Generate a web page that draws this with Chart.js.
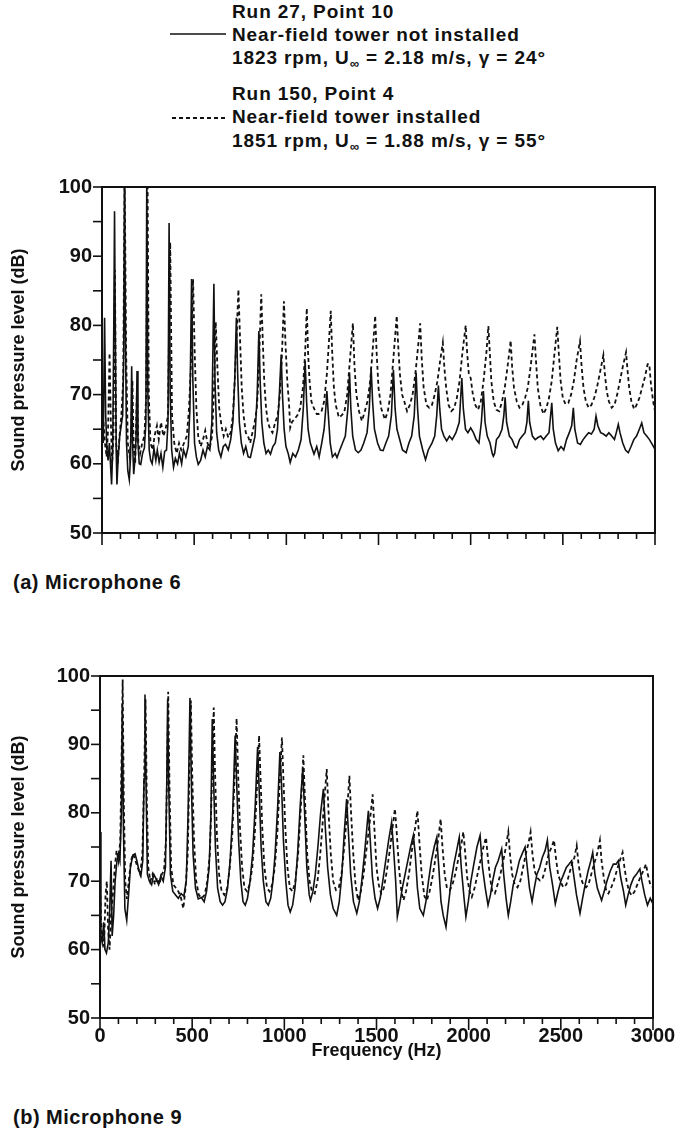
<!DOCTYPE html>
<html>
<head>
<meta charset="utf-8">
<script src="https://cdn.jsdelivr.net/npm/chart.js@4.4.0/dist/chart.umd.min.js"></script>
<style>
  body { margin: 0; background: #fff; width: 682px; height: 1134px; position: relative; overflow: hidden;
         font-family: "Liberation Sans", Arial, Helvetica, sans-serif; font-weight: bold; color: #111; }
  .t { position: absolute; font-size: 19px; line-height: 1; letter-spacing: 0.9px; white-space: nowrap; }
  .panel { position: absolute; left: 13px; font-size: 20px; line-height: 1; letter-spacing: 0.5px; white-space: nowrap; }
  sub { font-size: 13px; vertical-align: -4px; line-height: 0; }
  svg.key { position: absolute; left: 170px; }
  canvas { position: absolute; left: 0; }
</style>
</head>
<body>

<div class="t" style="left:232px; top:2px">Run 27, Point 10</div>
<div class="t" style="left:232px; top:25px">Near-field tower not installed</div>
<div class="t" style="left:232px; top:48px">1823 rpm, U<sub>∞</sub> = 2.18 m/s, γ = 24°</div>
<div class="t" style="left:232px; top:84px">Run 150, Point 4</div>
<div class="t" style="left:232px; top:107px">Near-field tower installed</div>
<div class="t" style="left:232px; top:131px">1851 rpm, U<sub>∞</sub> = 1.88 m/s, γ = 55°</div>
<svg class="key" style="top:30px" width="60" height="8"><line x1="0" y1="4" x2="56" y2="4" stroke="#111" stroke-width="1.6"/></svg>
<svg class="key" style="top:114px" width="60" height="8"><line x1="2" y1="4" x2="57" y2="4" stroke="#111" stroke-width="1.8" stroke-dasharray="4 3"/></svg>

<canvas id="mic6" width="682" height="376" style="top:172px"></canvas>
<div class="panel" style="top:572px">(a) Microphone 6</div>

<canvas id="mic9" width="682" height="404" style="top:661px"></canvas>
<div class="panel" style="top:1107px">(b) Microphone 9</div>

<script>
// frequency (Hz), sound pressure level (dB)
const freqTickLabels = [0, 500, 1000, 1500, 2000, 2500, 3000];
const splTickLabels = [50, 60, 70, 80, 90, 100];

// Microphone 6, run 27 (tower not installed)
const mic6TowerOff = [
  [0,66],[7,63],[14,81.1],[20,67],[27,62],[33,60.5],[40,63],[46,60],[52,57],[58,62],[64,80],[68,96.5],[72,80],[77,62],[81,57],
  [88,61],[96,64],[104,65.5],[112,67],[118,76],[122,102],[127,80],[133,63],[140,59],[148,57.7],[155,61],[161,74.1],[166,63],
  [172,58.5],[180,61],[185,64],[190,73.4],[195,63],[202,60],[210,59.9],[220,61.5],[230,62.3],[238,66],[243,102],[249,70],
  [256,62],[264,60.5],[272,60],[282,62.2],[292,60.5],[300,62],[310,60.2],[320,61.5],[330,59.5],[340,61.8],[350,62],[358,66],
  [364,94.8],[370,70],[378,62],[388,59.5],[398,60.8],[410,60],[420,61.5],[432,60],[442,62],[455,61],[468,62.5],[477,68],
  [486,86.7],[493,72],[502,63],[512,61],[522,59.9],[535,60.5],[548,62],[560,61],[572,62.5],[585,62],[596,66],[607,86],
  [613,72],[622,64.5],[633,62],[645,61],[658,62.5],[670,62.8],[685,62],[698,63.5],[710,66],[720,72],[729,81.1],[736,73],
  [745,66],[756,63],[768,61.5],[780,62.5],[793,61],[805,60.9],[818,62.5],[830,64],[842,70],[851,79.2],[858,72],[867,66],
  [878,63],[890,61.5],[902,62],[914,61.4],[927,62.5],[940,63],[952,65],[962,70],[972,75.8],[979,70],[988,65],[998,62.5],
  [1010,61.5],[1021,60.2],[1035,61.5],[1050,61],[1065,62],[1080,63.5],[1092,68],[1102,74.9],[1110,69],[1118,65],[1130,63],
  [1150,61.4],[1165,62.5],[1178,61],[1192,63],[1205,65],[1214,68],[1220,70.5],[1228,67],[1238,63],[1250,61],[1265,61.5],
  [1275,60.9],[1290,62],[1305,63],[1320,64],[1334,68],[1343,73.2],[1350,68],[1360,64],[1375,62],[1390,61.6],[1405,62],
  [1420,63],[1438,64.5],[1450,68],[1460,73.9],[1468,69],[1478,65],[1495,63],[1510,62],[1525,61.9],[1540,63],[1555,64],
  [1570,67],[1581,73.6],[1590,68],[1600,65],[1615,63.5],[1630,62],[1650,61.6],[1665,63],[1680,64],[1694,67],[1704,73.2],
  [1712,68],[1722,64],[1740,62],[1755,60.6],[1770,62],[1790,63],[1805,64],[1816,67],[1825,71.3],[1832,68],[1842,65],
  [1855,64],[1870,63.3],[1885,64],[1900,63.5],[1920,64.5],[1938,66],[1952,72.4],[1960,68],[1972,65],[1985,64.5],[2000,65.2],
  [2015,64.5],[2030,63.5],[2045,63],[2058,66],[2069,70.5],[2078,66],[2090,64],[2105,63],[2117,61.5],[2123,61.1],[2130,61.5],
  [2140,63.5],[2155,64],[2170,65],[2180,67],[2187,69.6],[2195,66],[2210,64],[2225,63.5],[2240,62.5],[2250,62.3],[2265,63.5],
  [2280,64],[2295,64.5],[2305,66],[2313,69.1],[2320,66],[2335,64],[2350,63.5],[2365,63.8],[2380,64],[2395,63.5],[2410,64],
  [2425,64.5],[2440,68.8],[2448,65],[2460,63],[2475,61.9],[2490,62.5],[2505,62],[2520,63.5],[2535,64.5],[2548,65.5],
  [2557,68.1],[2565,65],[2580,63],[2595,62.8],[2610,63.5],[2625,64],[2640,64.5],[2655,64.3],[2670,65],[2680,66.9],[2690,65.5],
  [2705,64.5],[2720,64.3],[2735,64],[2750,64.5],[2765,64],[2780,63.5],[2790,64.5],[2801,65.7],[2810,64.5],[2825,63],
  [2840,62],[2855,61.6],[2870,62.5],[2885,63.5],[2900,64],[2915,65],[2928,65.9],[2940,64.5],[2955,64],[2970,63.5],
  [2985,62.8],[3000,62.1]
];

// Microphone 6, run 150 (tower installed)
const mic6TowerOn = [
  [0,68],[8,66],[16,63],[25,61],[33,65],[41,76],[48,66],[55,60],[62,64],[70,88],[77,63],[85,60],[95,64],[105,67],[115,72],
  [123,102],[131,76],[140,63],[150,61],[158,64],[165,72],[171,63],[180,60],[190,71],[197,63],[207,61.5],[218,63],[230,64],
  [240,70],[247,102],[254,70],[263,63],[275,62],[285,64],[298,65.5],[308,63.5],[320,66],[333,64],[345,65],[358,67],[370,92],
  [380,67],[392,63],[405,61.5],[418,63],[430,62],[445,63],[460,64],[472,68],[482,74],[494,86.7],[503,76],[512,68],[522,64],
  [535,62.5],[548,63.5],[560,64.8],[572,63],[585,62.3],[597,64],[607,70],[617,80.5],[626,74],[636,68],[648,65.5],[660,64],
  [672,65],[685,63.8],[698,64.5],[710,67],[720,72],[731,79],[740,85.2],[749,78],[758,71],[768,67],[780,64.5],[792,64],
  [804,63],[816,64.5],[828,66],[840,68],[850,73],[857,79],[864,84.5],[872,78],[880,72],[890,68],[900,66],[912,65],[925,64.5],
  [940,66],[953,67],[965,70],[975,75],[987,83.5],[996,77],[1005,72],[1015,68.5],[1021,65.2],[1030,66],[1045,66.5],[1060,67],
  [1075,68],[1090,71],[1102,76],[1111,82.5],[1118,76],[1126,72],[1136,69],[1150,68],[1165,67.2],[1175,67.2],[1190,67.5],
  [1205,69],[1220,73],[1232,78],[1241,82.1],[1249,76],[1258,71],[1268,68.5],[1285,66.7],[1300,67],[1315,67.5],[1330,70],
  [1345,75],[1361,80.3],[1370,74],[1380,70],[1395,67.5],[1410,66.2],[1425,67.5],[1440,69],[1455,72],[1470,77],[1482,81.4],
  [1490,76],[1500,71],[1515,68],[1535,66.4],[1550,67.5],[1565,70],[1580,75],[1592,79],[1599,81.4],[1607,77],[1616,73],
  [1628,70],[1640,69],[1655,67.6],[1670,68.5],[1685,70],[1700,73],[1715,77],[1726,80.3],[1735,75],[1745,71],[1760,68.5],
  [1775,68.1],[1790,68.5],[1805,70],[1820,72],[1835,75],[1849,77.5],[1857,74],[1867,71],[1880,68.5],[1895,67.6],[1910,68],
  [1925,69.5],[1940,72],[1955,76],[1973,80],[1981,76],[1990,73],[2000,72.4],[2012,70],[2025,68.5],[2040,67.8],[2055,69],
  [2070,72],[2085,76],[2096,79.9],[2104,76],[2112,72],[2125,69],[2140,67.8],[2155,67.6],[2170,69],[2185,71],[2200,74],
  [2217,77.8],[2225,74],[2235,71],[2250,69],[2265,68.1],[2280,68.5],[2295,69.5],[2310,71],[2325,74],[2346,78.7],[2354,75],
  [2364,71],[2378,68.5],[2395,67.2],[2410,68],[2425,69.5],[2440,72],[2455,76],[2470,79.8],[2478,76],[2488,72],[2500,69.5],
  [2515,68.6],[2530,68.8],[2545,70],[2560,72],[2575,75],[2593,77.7],[2602,74],[2612,71],[2625,69],[2640,68.1],[2655,68.5],
  [2670,69.5],[2685,71],[2700,73],[2720,75.7],[2728,73],[2738,70.5],[2750,69],[2765,68.1],[2780,68.5],[2795,70],[2810,72],
  [2825,74],[2843,76.1],[2851,73.5],[2860,71],[2872,69],[2887,67.9],[2900,68.5],[2915,69.5],[2930,71],[2945,72.5],
  [2960,74.4],[2969,74.4],[2978,71.5],[2990,69],[3000,67.6]
];

// Microphone 9, run 27 (tower not installed)
const mic9TowerOff = [
  [0,77.2],[5,62],[12,61],[20,64],[27,60],[35,59.5],[45,61],[53,66],[60,73],[66,62],[74,65],[82,70],[92,73],[100,74],
  [108,73],[116,80],[121,96],[127,78],[135,66],[145,64.3],[155,68],[165,72],[178,73.8],[190,74],[200,73],[212,71.5],
  [222,70.8],[232,73],[239,85],[244,97.3],[250,84],[257,71],[268,70],[280,69.5],[292,71],[305,70.3],[318,69.5],[330,70.8],
  [343,70],[355,72],[362,84],[367,96.6],[373,84],[382,71],[395,68.5],[410,68],[425,67.5],[440,68.2],[455,67.8],[468,70],
  [478,80],[488,96.8],[496,84],[505,74],[518,69],[533,67.4],[550,67.6],[565,67],[578,68.5],[592,72],[602,80],[609,93.7],
  [617,84],[626,75],[638,69],[652,67],[665,66.5],[678,67],[692,69],[706,73],[720,80],[733,91.3],[742,84],[752,76],[764,70],
  [776,67],[788,66.5],[800,67.5],[814,70],[828,74],[842,81],[855,89.6],[864,83],[874,75],[886,70],[900,67],[913,66.5],
  [926,67.5],[938,70],[950,74],[964,81],[976,88.9],[985,84],[995,76],[1008,70],[1020,66.5],[1032,65.5],[1045,66.5],
  [1058,69],[1072,74],[1086,81],[1100,86.5],[1110,80],[1122,72],[1135,68],[1142,67.2],[1155,68.5],[1168,71],[1182,75],
  [1197,80],[1212,83.5],[1222,78],[1235,72],[1250,68],[1265,66],[1284,65],[1298,67],[1312,71],[1325,77],[1338,82],
  [1348,77],[1360,71],[1375,67],[1393,65.3],[1407,67],[1420,70],[1435,74],[1456,80.3],[1466,76],[1478,70.5],[1492,67.5],
  [1506,66],[1520,67.5],[1534,70],[1550,73],[1566,76],[1582,78.6],[1592,75],[1604,70],[1613,64.8],[1625,66.5],[1640,69],
  [1655,71],[1670,73],[1685,75],[1700,76.7],[1710,74],[1722,69],[1735,66],[1754,65],[1768,67],[1782,70],[1798,73],
  [1813,75],[1827,76.4],[1838,72],[1850,67],[1862,65],[1877,63.3],[1890,66.5],[1905,70],[1920,72.5],[1935,74.5],
  [1949,76.4],[1960,72],[1975,67.5],[1985,64.8],[1998,67],[2012,70],[2028,72.5],[2045,75],[2062,76.7],[2075,72],[2090,69],
  [2105,66.5],[2118,68],[2130,70],[2145,72],[2160,73],[2179,74.7],[2190,71],[2203,67.5],[2215,65],[2228,67],[2242,69.5],
  [2258,71],[2275,73],[2290,74],[2306,75],[2318,72],[2330,69],[2344,67],[2356,69],[2370,71],[2385,72],[2400,73.5],
  [2415,74.5],[2427,76],[2440,72],[2455,69.5],[2470,66.7],[2485,68.5],[2500,70],[2515,71],[2530,72],[2545,72.5],[2559,73],
  [2572,70.5],[2585,68],[2604,65.3],[2618,67.5],[2632,69.5],[2648,71.5],[2663,73],[2673,74.2],[2685,71],[2698,69],
  [2721,67.2],[2735,68.5],[2750,70],[2768,71.5],[2785,72.5],[2800,72.5],[2812,73],[2825,70.5],[2840,68.5],[2852,66.5],
  [2865,68],[2880,69.5],[2895,70.5],[2910,71],[2929,71.8],[2940,70],[2955,68],[2970,66.5],[2985,67.5],[3000,66.7]
];

// Microphone 9, run 150 (tower installed)
const mic9TowerOn = [
  [0,70],[6,64],[14,61],[22,60.5],[30,68],[37,70],[44,63],[52,60],[60,65],[70,68],[80,72],[90,74.5],[100,73],[110,76],
  [117,88],[123,99.5],[129,82],[137,70],[146,67.4],[156,70],[168,73],[180,74],[192,73],[205,72],[218,71],[230,74],[240,86],
  [247,96.6],[254,82],[262,72],[273,70],[285,71],[298,69.5],[310,70.5],[322,69.5],[335,71],[347,71.5],[358,76],[365,88],
  [370,97.7],[377,84],[386,72],[398,69.5],[412,69],[425,68.5],[440,67.5],[452,66],[464,69],[476,74],[485,86],[493,96.4],
  [500,86],[510,76],[522,70],[536,68],[552,67.5],[568,68],[582,70],[596,74],[607,84],[617,95.4],[624,86],[634,77],[646,71],
  [660,68.5],[675,68],[690,69],[704,72],[718,77],[730,85],[741,93.8],[749,86],[759,78],[771,72],[784,69],[798,68.5],
  [812,69.5],[826,72],[840,77],[852,84],[863,91.3],[871,85],[880,78],[892,72],[906,69],[920,68.5],[934,69.5],[948,72],
  [962,77],[976,85],[987,91],[995,85],[1005,78],[1017,72],[1030,69],[1045,68.5],[1060,70],[1075,74],[1090,81],[1103,88.4],
  [1112,82],[1124,74],[1137,70],[1150,68.5],[1165,68.2],[1180,70],[1195,74],[1212,80],[1230,86.4],[1240,80],[1252,74],
  [1265,70],[1280,68.7],[1295,69],[1310,71],[1325,75],[1340,80],[1353,85.4],[1362,80],[1374,74],[1386,69.5],[1400,67.2],
  [1415,68.5],[1430,71],[1447,75],[1465,79],[1479,82.7],[1488,78],[1500,72],[1512,69.5],[1525,68.2],[1540,69],[1556,71.5],
  [1572,74.5],[1588,78],[1600,80.6],[1610,77],[1622,72],[1635,68.5],[1646,67.2],[1660,68.5],[1676,71],[1692,74.5],
  [1708,77.5],[1722,80.3],[1732,76],[1745,71],[1760,67.8],[1773,67.2],[1788,68.5],[1803,70.5],[1818,73],[1834,76],
  [1848,79.1],[1858,75],[1870,71],[1882,69],[1898,68.7],[1912,69.5],[1927,71],[1942,73],[1958,75],[1971,77.2],[1980,74.5],
  [1992,70.5],[2005,68.5],[2017,67.7],[2032,69],[2048,71],[2064,73],[2080,75],[2094,76.4],[2104,73.5],[2116,70.5],
  [2128,68.5],[2142,68.2],[2157,69.5],[2172,71],[2188,73],[2202,75],[2215,77.2],[2224,74],[2236,71],[2250,69.5],[2265,69.1],
  [2280,70],[2295,72],[2310,74],[2324,75.5],[2336,77.2],[2346,74],[2358,71.5],[2372,70.5],[2387,70.1],[2402,70.5],[2418,72],
  [2434,74],[2450,75],[2463,76],[2473,73.5],[2485,71],[2500,69.8],[2514,69.1],[2530,69.5],[2545,71],[2560,72.5],[2574,73.5],
  [2586,75.2],[2596,72.5],[2608,70.5],[2622,69.5],[2636,69.1],[2650,69.5],[2665,71],[2680,72.5],[2697,74],[2712,76],
  [2721,73],[2733,70.5],[2747,68.5],[2758,68.2],[2772,69],[2787,70],[2803,71.5],[2820,73],[2835,74.2],[2845,72],[2857,70],
  [2870,68.5],[2885,67.9],[2900,68.5],[2915,69.5],[2930,70.5],[2947,71.5],[2962,72.5],[2972,71],[2985,69.5],[3000,69.1]
];

const INK = "#111";
const FONT = "'Liberation Sans', Arial, Helvetica, sans-serif";

// box around the plot + outward ticks (long at labelled values, short in between)
const frameTicks = {
  id: "frameTicks",
  afterDraw(chart) {
    const { ctx, chartArea: a, scales } = chart;
    ctx.save();
    ctx.strokeStyle = INK;
    ctx.lineWidth = 2;
    ctx.strokeRect(a.left, a.top, a.right - a.left, a.bottom - a.top);
    ctx.lineWidth = 1.6;
    scales.x.ticks.forEach(t => {
      const px = scales.x.getPixelForValue(t.value);
      const len = freqTickLabels.includes(t.value) ? 12 : 6;
      ctx.beginPath();
      ctx.moveTo(px, a.bottom);
      ctx.lineTo(px, a.bottom + len);
      ctx.stroke();
    });
    scales.y.ticks.forEach(t => {
      const py = scales.y.getPixelForValue(t.value);
      ctx.beginPath();
      ctx.moveTo(a.left, py);
      ctx.lineTo(a.left - 9, py);
      ctx.stroke();
    });
    ctx.restore();
  }
};

function makeChart(id, offData, onData, opts) {
  const ctx = document.getElementById(id).getContext("2d");
  return new Chart(ctx, {
    type: "line",
    data: {
      datasets: [
        {
          label: "Near-field tower not installed",
          data: offData.map(p => ({ x: p[0], y: p[1] })),
          borderColor: INK,
          borderWidth: 1.6,
          pointRadius: 0,
          tension: 0
        },
        {
          label: "Near-field tower installed",
          data: onData.map(p => ({ x: p[0], y: p[1] })),
          borderColor: INK,
          borderWidth: 1.8,
          borderDash: [4, 3],
          pointRadius: 0,
          tension: 0
        }
      ]
    },
    options: {
      responsive: false,
      animation: false,
      devicePixelRatio: 1,
      layout: { padding: { top: 6, right: opts.rightPad, bottom: 0, left: 0 } },
      plugins: { legend: { display: false }, tooltip: { enabled: false } },
      scales: {
        x: {
          type: "linear",
          min: 0,
          max: 3000,
          grid: { display: false, drawTicks: false },
          border: { display: false },
          ticks: {
            stepSize: 100,
            autoSkip: false,
            maxRotation: 0,
            padding: 6,
            color: INK,
            font: { family: FONT, size: 20, weight: "bold" },
            callback: v => (opts.xLabels && freqTickLabels.includes(v)) ? String(v) : ""
          },
          title: {
            display: opts.xLabels,
            text: "Frequency (Hz)",
            color: INK,
            font: { family: FONT, size: 18, weight: "bold" },
            padding: { top: 0, bottom: 3 }
          },
          afterFit: s => { s.height = opts.xHeight; }
        },
        y: {
          min: 50,
          max: 100,
          grid: { display: false, drawTicks: false },
          border: { display: false },
          ticks: {
            stepSize: 5,
            autoSkip: false,
            padding: 10,
            color: INK,
            font: { family: FONT, size: 20, weight: "bold", lineHeight: 0.5 },
            callback: v => splTickLabels.includes(v) ? String(v) : ""
          },
          title: {
            display: true,
            text: "Sound pressure level (dB)",
            color: INK,
            font: { family: FONT, size: 18, weight: "bold" },
            padding: { top: 8, bottom: 0 }
          },
          afterFit: s => { s.width = opts.yWidth; }
        }
      }
    },
    plugins: [frameTicks]
  });
}

makeChart("mic6", mic6TowerOff, mic6TowerOn, { xLabels: false, xHeight: 14, yWidth: 102, rightPad: 27 });
makeChart("mic9", mic9TowerOff, mic9TowerOn, { xLabels: true, xHeight: 47, yWidth: 100, rightPad: 29 });
</script>
</body>
</html>
